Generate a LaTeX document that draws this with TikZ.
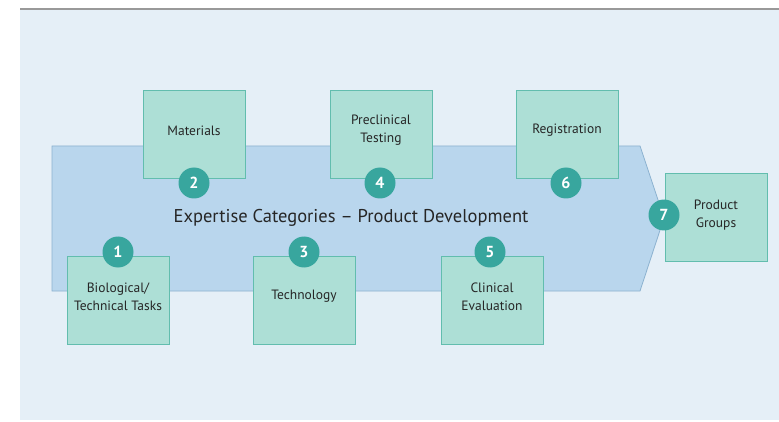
\documentclass[tikz,border=0pt]{standalone}
\usepackage{fontspec}
\setmainfont{PT Sans}
\usetikzlibrary{positioning}
\definecolor{panelcolor}{RGB}{229,239,247}
\definecolor{arrowfill}{RGB}{185,214,237}
\definecolor{arrowline}{RGB}{140,178,208}
\definecolor{boxfill}{RGB}{173,223,214}
\definecolor{boxline}{RGB}{98,189,174}
\definecolor{numcolor}{RGB}{56,166,158}

\tikzset{
  category/.style={draw=boxline, fill=boxfill, line width=0.8pt, minimum width=102pt,
    minimum height=88pt, inner sep=0pt},
  boxtext/.style={yshift=3.5pt, align=center, text=black!85,
    font=\fontsize{13.5}{18}\selectfont},
  stepnum/.style={circle, fill=numcolor, minimum size=31pt, inner sep=0pt, text=white,
    font=\fontsize{16}{18}\selectfont\bfseries}
}

\begin{document}
\begin{tikzpicture}[x=1pt, y=-1pt]
    \useasboundingbox (0,0) rectangle (779,422);

    % Panel
    \fill[panelcolor] (20,9) rectangle (779,420);
    \draw[line width=1.2pt, black!40] (20,9) -- (779,9);

    % Arrow
    \draw[fill=arrowfill, draw=arrowline, line width=0.8pt]
        (52,146) -- (640,146) -- (664,218) -- (640,291) -- (52,291) -- cycle;
    \node[font=\fontsize{18.5}{22}\selectfont, text=black!85] (title) at (351,218)
        {Expertise Categories -- Product Development};

    % Upper categories
    \node[category] (materials) at (194,134) {};
    \node[boxtext] at (materials) {Materials};
    \node[category] (preclinical) at (381,134) {};
    \node[boxtext] at (preclinical) {Preclinical\\Testing};
    \node[category] (registration) at (567,134) {};
    \node[boxtext] at (registration) {Registration};

    % Lower categories
    \node[category] (biotech) at (118,300) {};
    \node[boxtext] at (biotech) {Biological/\\Technical Tasks};
    \node[category] (technology) at (304,300) {};
    \node[boxtext] at (technology) {Technology};
    \node[category] (clinical) at (492,300) {};
    \node[boxtext] at (clinical) {Clinical\\Evaluation};

    % Result
    \node[category] (products) at (716,217) {};
    \node[boxtext, yshift=-1.5pt] at (products) {Product\\Groups};

    % Numbers
    \node[stepnum] (n1) at (118,252) {1};
    \node[stepnum] (n2) at (194,183) {2};
    \node[stepnum] (n3) at (304,252) {3};
    \node[stepnum] (n4) at (380,183) {4};
    \node[stepnum] (n5) at (490,252) {5};
    \node[stepnum] (n6) at (566,183) {6};
    \node[stepnum] (n7) at (664,215) {7};

\end{tikzpicture}
\end{document}
